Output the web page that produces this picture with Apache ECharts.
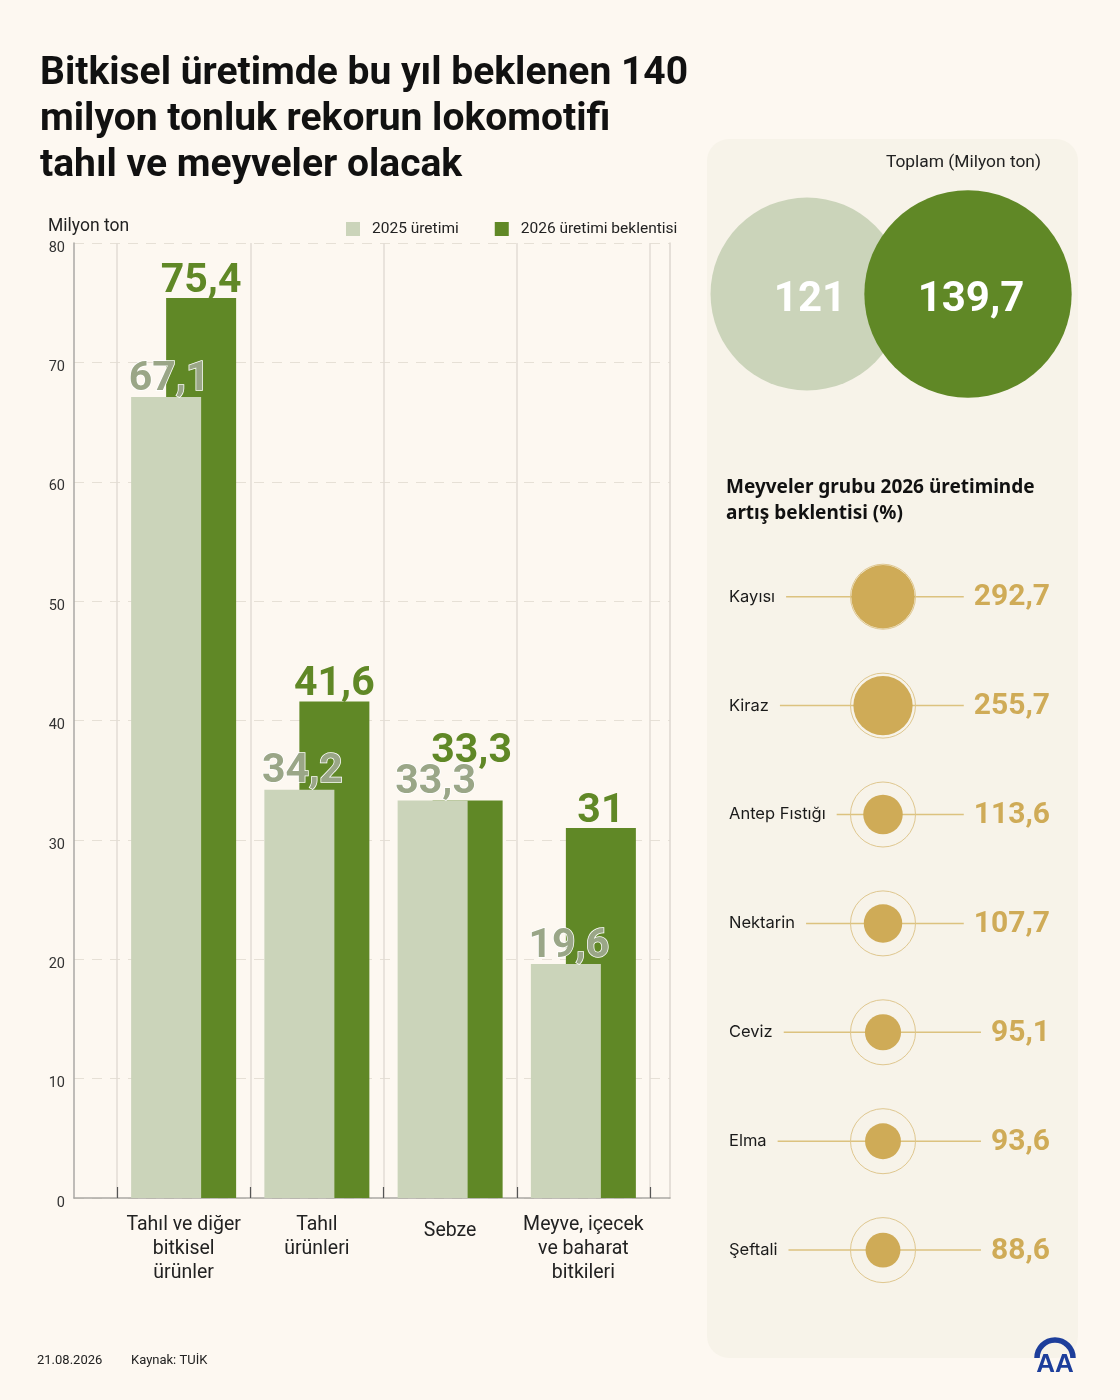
<!DOCTYPE html>
<html>
<head>
<meta charset="utf-8">
<script src="https://cdn.jsdelivr.net/npm/echarts@6/dist/echarts.min.js"></script>
<style>
  html, body { margin: 0; padding: 0; background: #fdf8f1; }
  #chart { width: 1120px; height: 1400px; }
</style>
</head>
<body>
<div id="chart"></div>
<script>
// ---------- DATA ----------
const CATEGORIES = ['Tahıl ve diğer\nbitkisel\nürünler', 'Tahıl\nürünleri', 'Sebze', 'Meyve, içecek\nve baharat\nbitkileri'];
const SERIES_NAMES = ['2025 üretimi', '2026 üretimi beklentisi'];
const PROD_2025 = [67.1, 34.2, 33.3, 19.6];
const PROD_2026 = [75.4, 41.6, 33.3, 31];
const Y_MIN = 0, Y_MAX = 80, Y_STEP = 10;

const TOTAL_YEARS = ['2025', '2026'];
const TOTALS = [121, 139.7];

const FRUITS = ['Kayısı', 'Kiraz', 'Antep Fıstığı', 'Nektarin', 'Ceviz', 'Elma', 'Şeftali'];
const FRUIT_INCREASE = [292.7, 255.7, 113.6, 107.7, 95.1, 93.6, 88.6];

// ---------- STYLE ----------
const BG = '#fdf8f1';
const PANEL = '#f7f3e9';
const LIGHT = '#cbd4ba';
const DARK = '#608826';
const GOLD = '#cfab57';
const fmt = v => String(v).replace('.', ',');

const measureCtx = document.createElement('canvas').getContext('2d');
function measure(text, font) { measureCtx.font = font; return measureCtx.measureText(text).width; }

const LABEL_FONT = '16.5px Inter';
const VALUE_FONT = 'bold 30px Roboto';
const DOT_MAX_R = 31.7;
const DOT_OFFSET = 154;
const BUBBLE_K = 8.77;
const maxInc = Math.max.apply(null, FRUIT_INCREASE);

const chart = echarts.init(document.getElementById('chart'), null, { renderer: 'canvas' });

const option = {
  backgroundColor: BG,
  animation: false,
  textStyle: { fontFamily: 'Roboto' },
  title: [
    { text: 'Bitkisel üretimde bu yıl beklenen 140\nmilyon tonluk rekorun lokomotifi\ntahıl ve meyveler olacak',
      left: 40, top: 51, padding: 0,
      textStyle: { fontFamily: 'Roboto', fontWeight: 'bold', fontSize: 39, lineHeight: 46, color: '#111' } },
    { text: 'Milyon ton', left: 48, top: 218, padding: 0,
      textStyle: { fontFamily: 'Roboto', fontWeight: 'normal', fontSize: 17.5, color: '#222' } },
    { text: 'Toplam (Milyon ton)', right: 79, top: 154, padding: 0,
      textStyle: { fontFamily: 'Roboto', fontWeight: 'normal', fontSize: 17.4, color: '#222' } },
    { text: 'Meyveler grubu 2026 üretiminde\nartış beklentisi (%)', left: 726, top: 475, padding: 0,
      textStyle: { fontFamily: 'Noto Sans', fontWeight: 'bold', fontSize: 19, lineHeight: 26, color: '#111' } },
    { text: '21.08.2026', left: 37, top: 1354, padding: 0,
      textStyle: { fontFamily: 'Roboto', fontWeight: 'normal', fontSize: 13, color: '#222' } },
    { text: 'Kaynak: TUİK', left: 131, top: 1354, padding: 0,
      textStyle: { fontFamily: 'Roboto', fontWeight: 'normal', fontSize: 13, color: '#222' } }
  ],
  legend: {
    data: SERIES_NAMES,
    left: 346, top: 221, padding: 0,
    icon: 'rect', itemWidth: 14, itemHeight: 14, itemGap: 36,
    textStyle: { fontFamily: 'Roboto', fontSize: 15.5, color: '#222', padding: [0, 0, 0, 7] }
  },
  graphic: [
    { type: 'rect', z: -10, shape: { x: 707, y: 139, width: 371, height: 1219, r: 22 }, style: { fill: PANEL } },
    { type: 'arc', shape: { cx: 1055, cy: 1358, r: 18, startAngle: Math.PI, endAngle: 2 * Math.PI }, style: { stroke: '#1d3e9b', lineWidth: 5.5, fill: 'none' } },
    { type: 'text', style: { text: 'AA', x: 1055, y: 1365, align: 'center', verticalAlign: 'middle', font: 'bold 26px "Liberation Sans"', fill: '#1d3e9b' } }
  ],
  grid: [
    { left: 74, top: 243, width: 596, height: 955 },          // background axes
    { left: 117, top: 243, width: 533, height: 955 },         // bars
    { left: 726.5, top: 194, width: 322, height: 200 },       // totals bubbles
    { left: 729, top: 542.25, width: 321, height: 762.3 }     // fruit dots
  ],
  xAxis: [
    { gridIndex: 0, type: 'value', min: 0, max: 1,
      axisLine: { show: true, lineStyle: { color: '#aaa8a4', width: 1.5 } },
      axisTick: { show: false }, axisLabel: { show: false }, splitLine: { show: false } },
    { gridIndex: 1, type: 'category',
      data: CATEGORIES.map(c => c.indexOf('\n') < 0 ? { value: c, textStyle: { lineHeight: 36 } } : c),
      axisLine: { show: false },
      axisTick: { show: true, inside: true, length: 11, lineStyle: { color: '#555', width: 1.2 } },
      splitLine: { show: true, lineStyle: { color: '#e2ddd5', width: 1.5 } },
      axisLabel: { fontFamily: 'Roboto', fontSize: 19.5, color: '#222', lineHeight: 24, margin: 15, interval: 0 } },
    { gridIndex: 2, type: 'category', data: TOTAL_YEARS, show: false },
    { gridIndex: 3, type: 'value', min: 0, max: 1, show: false }
  ],
  yAxis: [
    { gridIndex: 0, type: 'value', min: Y_MIN, max: Y_MAX, interval: Y_STEP,
      axisLine: { show: true, lineStyle: { color: '#aaa8a4', width: 1.5 } },
      axisTick: { show: false },
      axisLabel: { fontFamily: 'Roboto', fontSize: 14.5, color: '#333', margin: 9, verticalAlign: 'top', lineHeight: 10 },
      splitLine: { show: true, lineStyle: { color: '#e6e0d6', type: [10, 8], width: 1 } } },
    { gridIndex: 0, type: 'value', min: Y_MIN, max: Y_MAX, position: 'right',
      axisLine: { show: true, lineStyle: { color: '#dcd7cf', width: 1.5 } },
      axisTick: { show: false }, axisLabel: { show: false }, splitLine: { show: false } },
    { gridIndex: 1, type: 'value', min: Y_MIN, max: Y_MAX, show: false, splitLine: { show: false } },
    { gridIndex: 2, type: 'value', min: -1, max: 1, show: false },
    { gridIndex: 3, type: 'category', data: FRUITS, inverse: true, show: false }
  ],
  series: [
    { name: SERIES_NAMES[0], type: 'bar', xAxisIndex: 1, yAxisIndex: 2, z: 4,
      barWidth: 70, barGap: '-50%',
      itemStyle: { color: LIGHT },
      label: { show: true, position: 'top', distance: -3, offset: [3, 0], formatter: p => fmt(p.value),
        fontFamily: 'Roboto', fontWeight: 'bold', fontSize: 41, color: '#9aa687',
        textBorderColor: '#ffffff', textBorderWidth: 1.5 },
      data: PROD_2025 },
    { name: SERIES_NAMES[1], type: 'bar', xAxisIndex: 1, yAxisIndex: 2, z: 3,
      barWidth: 70, barGap: '-50%',
      itemStyle: { color: DARK },
      label: { show: true, position: 'top', distance: -4, formatter: p => fmt(p.value),
        fontFamily: 'Roboto', fontWeight: 'bold', fontSize: 41, color: DARK },
      data: PROD_2026.map((v, i) => v === PROD_2025[i] ? { value: v, label: { offset: [4, -32] } } : v) },
    { type: 'scatter', xAxisIndex: 2, yAxisIndex: 3, silent: true,
      symbol: 'circle',
      symbolSize: val => 2 * BUBBLE_K * Math.sqrt(val[2]),
      label: { show: true, position: 'inside', offset: [3, 6], formatter: p => fmt(p.value[2]),
        fontFamily: 'Roboto', fontWeight: 'bold', fontSize: 42, color: '#fff' },
      emphasis: { disabled: true },
      data: TOTALS.map((v, i) => ({ value: [TOTAL_YEARS[i], 0, v], itemStyle: { color: i === 0 ? LIGHT : DARK, opacity: 1 } })) },
    { type: 'custom', xAxisIndex: 3, yAxisIndex: 4, silent: true,
      encode: { x: 0, y: 1 },
      data: FRUIT_INCREASE.map((v, i) => [v, FRUITS[i]]),
      renderItem: function (params, api) {
        const cs = params.coordSys;
        const i = params.dataIndex;
        const v = api.value(0);
        const y = api.coord([0, i])[1];
        const name = FRUITS[i];
        const cx = cs.x + DOT_OFFSET;
        const r = DOT_MAX_R * Math.sqrt(v / maxInc);
        const valText = fmt(v);
        const labW = measure(name, LABEL_FONT);
        const valW = measure(valText, VALUE_FONT);
        const xr = cs.x + cs.width;
        return { type: 'group', children: [
          { type: 'line', shape: { x1: cs.x + labW + 11, y1: y, x2: xr - valW - 10, y2: y }, style: { stroke: '#dcc27f', lineWidth: 1.5 } },
          { type: 'circle', shape: { cx: cx, cy: y, r: DOT_MAX_R + 0.8 }, style: { fill: 'none', stroke: '#dfc78f', lineWidth: 1 } },
          { type: 'circle', shape: { cx: cx, cy: y, r: r }, style: { fill: GOLD } },
          { type: 'text', style: { text: name, x: cs.x, y: y, font: LABEL_FONT, fill: '#1a1a1a', align: 'left', verticalAlign: 'middle' } },
          { type: 'text', style: { text: valText, x: xr, y: y + 1, font: VALUE_FONT, fill: GOLD, align: 'right', verticalAlign: 'middle' } }
        ] };
      } }
  ]
};
chart.setOption(option);
</script>
</body>
</html>
